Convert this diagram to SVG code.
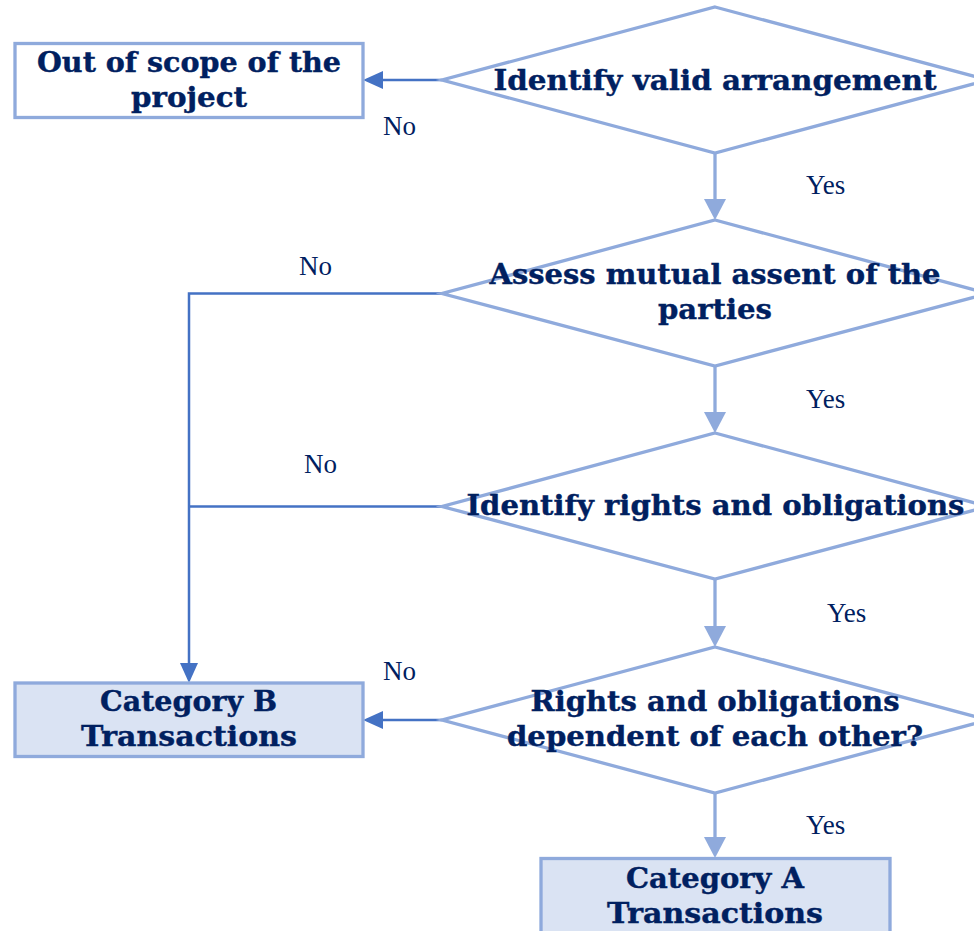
<svg xmlns="http://www.w3.org/2000/svg" width="974" height="931" viewBox="0 0 974 931">
<style>
.shape{fill:#ffffff;stroke:#8faadc;stroke-width:3.3}
.cat{fill:#dae3f3;stroke:#8faadc;stroke-width:3.3}
.t{font-family:"DejaVu Serif","Liberation Serif",serif;font-weight:bold;font-size:28px;fill:#002060;stroke:#002060;stroke-width:0.4;text-anchor:middle}
.lbl{font-family:"Liberation Serif","Times New Roman",serif;font-size:27px;fill:#002060}
.dk{fill:none;stroke:#4472c4;stroke-width:2.5}
.lt{fill:none;stroke:#8faadc;stroke-width:3.3}
</style>
<defs>
<marker id="ad" markerUnits="userSpaceOnUse" markerWidth="20" markerHeight="18" refX="16" refY="9" orient="auto">
<path d="M0,0 L20,9 L0,18 z" fill="#4472c4"/>
</marker>
<marker id="al" markerUnits="userSpaceOnUse" markerWidth="21" markerHeight="22" refX="17" refY="11" orient="auto">
<path d="M0,0 L21,11 L0,22 z" fill="#8faadc"/>
</marker>
</defs>
<rect width="974" height="931" fill="#ffffff"/>
<g id="connectors">
<line class="dk" x1="442" y1="80" x2="367" y2="80" marker-end="url(#ad)"/>
<polyline class="dk" points="442,293.5 189,293.5 189,679" marker-end="url(#ad)"/>
<line class="dk" x1="442" y1="506.5" x2="189" y2="506.5"/>
<line class="dk" x1="442" y1="720" x2="367" y2="720" marker-end="url(#ad)"/>
<line class="lt" x1="715" y1="153" x2="715" y2="216" marker-end="url(#al)"/>
<line class="lt" x1="715" y1="366" x2="715" y2="429" marker-end="url(#al)"/>
<line class="lt" x1="715" y1="579" x2="715" y2="643" marker-end="url(#al)"/>
<line class="lt" x1="715" y1="793" x2="715" y2="854" marker-end="url(#al)"/>
</g>
<g id="labels">
<text class="lbl" x="383" y="135">No</text>
<text class="lbl" x="806" y="194">Yes</text>
<text class="lbl" x="299" y="275">No</text>
<text class="lbl" x="806" y="408">Yes</text>
<text class="lbl" x="304" y="473">No</text>
<text class="lbl" x="827" y="622">Yes</text>
<text class="lbl" x="383" y="680">No</text>
<text class="lbl" x="806" y="834">Yes</text>
</g>
<g id="out-of-scope">
<rect class="shape" x="15" y="43.5" width="348" height="74"/>
<text class="t" x="189" y="72" textLength="304" lengthAdjust="spacingAndGlyphs">Out of scope of the</text>
<text class="t" x="189" y="107" textLength="116" lengthAdjust="spacingAndGlyphs">project</text>
</g>
<g id="identify-valid">
<polygon class="shape" points="715,7 988,80 715,153 442,80"/>
<text class="t" x="715" y="90" textLength="443" lengthAdjust="spacingAndGlyphs">Identify valid arrangement</text>
</g>
<g id="mutual-assent">
<polygon class="shape" points="715,220 988,293.5 715,366 442,293.5"/>
<text class="t" x="715" y="284" textLength="451" lengthAdjust="spacingAndGlyphs">Assess mutual assent of the</text>
<text class="t" x="715" y="319" textLength="114" lengthAdjust="spacingAndGlyphs">parties</text>
</g>
<g id="rights-obligations">
<polygon class="shape" points="715,433 988,506.5 715,579 442,506.5"/>
<text class="t" x="715.5" y="515" textLength="498" lengthAdjust="spacingAndGlyphs">Identify rights and obligations</text>
</g>
<g id="dependent">
<polygon class="shape" points="715,647 988,720 715,793 442,720"/>
<text class="t" x="715" y="711" textLength="369" lengthAdjust="spacingAndGlyphs">Rights and obligations</text>
<text class="t" x="715" y="746" textLength="416" lengthAdjust="spacingAndGlyphs">dependent of each other?</text>
</g>
<g id="category-b">
<rect class="cat" x="15" y="683" width="348" height="73.5"/>
<text class="t" x="188.5" y="711" textLength="177" lengthAdjust="spacingAndGlyphs">Category B</text>
<text class="t" x="189" y="746" textLength="216" lengthAdjust="spacingAndGlyphs">Transactions</text>
</g>
<g id="category-a">
<rect class="cat" x="541" y="858.5" width="349" height="80"/>
<text class="t" x="715" y="888" textLength="178" lengthAdjust="spacingAndGlyphs">Category A</text>
<text class="t" x="715" y="923" textLength="216" lengthAdjust="spacingAndGlyphs">Transactions</text>
</g>
</svg>
